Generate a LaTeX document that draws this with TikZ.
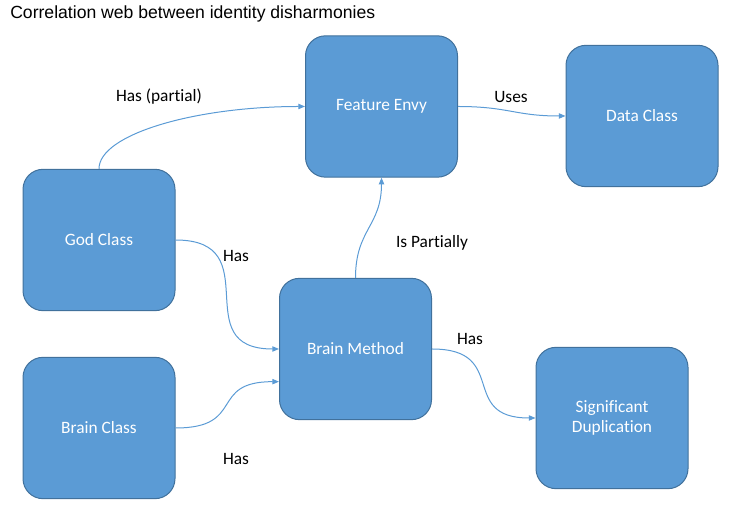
\documentclass[tikz,border=0pt]{standalone}
\usepackage{fontspec}
\setmainfont{Carlito}[Ligatures=NoCommon]
\newfontfamily\titlefont{Liberation Sans}
\usetikzlibrary{arrows.meta}
\definecolor{boxfill}{HTML}{5B9BD5}
\definecolor{boxline}{HTML}{41719C}
\begin{document}
\begin{tikzpicture}[x=0.75pt,y=0.75pt]
    \tikzstyle{smell}=[draw=boxline,line width=0.75pt,fill=boxfill,rounded corners=15pt,
        minimum width=114pt,minimum height=106pt,text=white,align=center,
        font=\fontsize{13}{15.6}\selectfont]
    \tikzstyle{link}=[draw=boxfill,line width=0.75pt,-{Triangle[length=5pt,width=4pt]}]
    \tikzstyle{lbl}=[font=\fontsize{13}{15.6}\selectfont,inner sep=0pt]

    \useasboundingbox (0,0) rectangle (756,520);

    \node[anchor=west,inner sep=0pt,font=\titlefont\fontsize{13.2}{15.8}\selectfont] at (10,506) (title) {Correlation web between identity disharmonies};

    \node[smell] at (381.5,413.5) (fe) {Feature Envy};
    \node[smell] at (642,404) (dc) {Data Class};
    \node[smell] at (99,280) (gc) {God Class};
    \node[smell] at (355.5,171) (bm) {Brain Method};
    \node[smell] at (99,92) (bcl) {Brain Class};
    \node[smell] at (612,102) (sd) {Significant\\Duplication};

    \draw[link] (gc.north) to[out=90,in=180,out distance=26pt,in distance=82pt] (fe.west);
    \draw[link] (fe.east) to[out=0,in=180,looseness=1.2] (dc.west);
    \draw[link] (gc.east) to[out=0,in=180,looseness=1.6] (bm.west);
    \draw[link] (bcl.east) to[out=0,in=180,looseness=1.6] ([yshift=-24.5pt]bm.west);
    \draw[link] (bm.north) to[out=90,in=-90,looseness=1.2] (fe.south);
    \draw[link] (bm.east) to[out=0,in=180,looseness=1.6] (sd.west);

    \node[lbl] at (159,423) (haspart) {Has (partial)};
    \node[lbl] at (511,423) (uses) {Uses};
    \node[lbl] at (236,264) (hasgc) {Has};
    \node[lbl] at (236,61) (hasbcl) {Has};
    \node[lbl] at (432,277) (partly) {Is Partially};
    \node[lbl] at (470,181) (hassd) {Has};
\end{tikzpicture}
\end{document}
